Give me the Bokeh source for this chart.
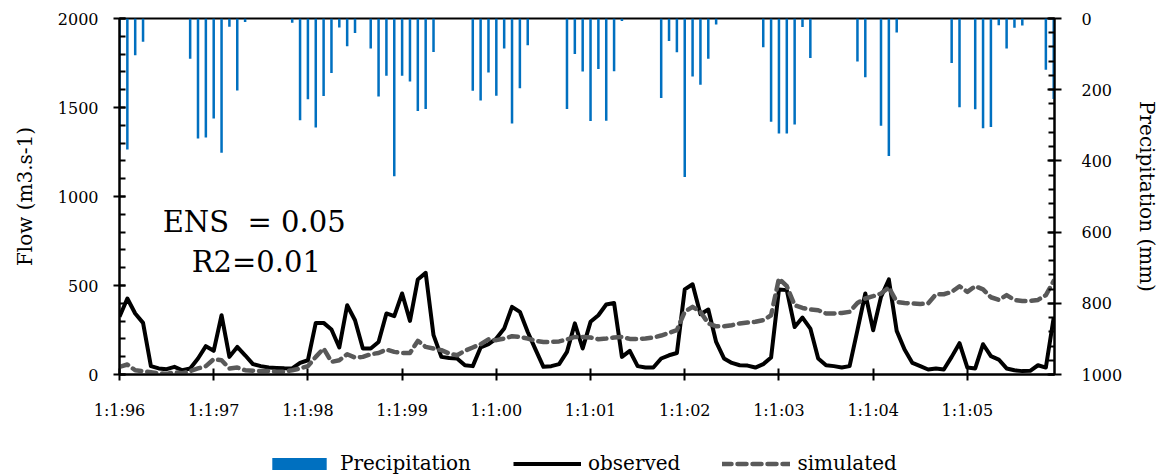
from bokeh.plotting import figure
from bokeh.layouts import column
from bokeh.models import Range1d, LinearAxis, FixedTicker, Label, Legend, LegendItem
from bokeh.embed import file_html
from bokeh.resources import INLINE

# ---------------- data ----------------
months = list(range(120))  # Jan 1996 .. Dec 2005
year_ticks = [0, 12, 24, 36, 48, 60, 72, 84, 96, 108]
tick_labels = ["1:1:96", "1:1:97", "1:1:98", "1:1:99", "1:1:00",
               "1:1:01", "1:1:02", "1:1:03", "1:1:04", "1:1:05"]

precipitation = [370, 368, 103, 65, 0, 0, 0, 0, 0, 113,
                 337, 334, 281, 377, 23, 202, 10, 0, 0, 0,
                 0, 0, 12, 286, 227, 306, 218, 153, 25, 78,
                 41, 0, 84, 219, 161, 443, 161, 177, 260, 254,
                 94, 0, 0, 0, 0, 203, 230, 152, 217, 84,
                 295, 196, 75, 0, 0, 0, 0, 254, 100, 149,
                 288, 142, 287, 148, 7, 0, 0, 0, 0, 223,
                 63, 95, 445, 163, 186, 113, 17, 0, 0, 0,
                 0, 0, 81, 290, 323, 323, 298, 24, 111, 0,
                 0, 0, 0, 0, 121, 165, 0, 301, 386, 39,
                 0, 0, 0, 0, 0, 0, 125, 249, 0, 255,
                 308, 305, 19, 84, 26, 20, 0, 0, 144, 226]

observed = [324, 427, 343, 290, 47, 34, 30, 43, 24, 34,
            90, 159, 133, 333, 99, 155, 108, 58, 47, 39,
            37, 35, 34, 65, 80, 290, 290, 253, 152, 389,
            305, 146, 146, 183, 343, 328, 455, 301, 534, 571,
            221, 99, 93, 90, 52, 47, 152, 170, 202, 258,
            380, 352, 239, 140, 43, 47, 58, 127, 287, 146,
            296, 333, 393, 402, 99, 133, 47, 39, 39, 90,
            108, 121, 478, 507, 339, 365, 183, 90, 65, 52,
            50, 39, 58, 95, 478, 474, 267, 320, 258, 90,
            52, 47, 39, 47, 249, 455, 249, 436, 534, 245,
            140, 65, 47, 28, 34, 28, 99, 176, 39, 34,
            170, 103, 84, 34, 24, 19, 21, 52, 39, 320]

simulated = [43, 56, 24, 19, 13, 7, 3, 13, 7, 19,
             34, 47, 86, 80, 34, 39, 24, 21, 19, 19,
             16, 16, 24, 34, 47, 99, 146, 71, 80, 114,
             95, 99, 114, 121, 140, 127, 121, 121, 189, 155,
             146, 137, 118, 108, 133, 152, 170, 198, 193, 202,
             215, 211, 202, 189, 183, 183, 186, 197, 211, 211,
             208, 198, 202, 208, 211, 200, 200, 202, 208, 219,
             234, 249, 352, 380, 352, 287, 271, 271, 277, 287,
             292, 296, 305, 333, 539, 496, 389, 374, 365, 361,
             343, 343, 346, 352, 402, 427, 440, 455, 489, 408,
             402, 399, 396, 399, 451, 451, 464, 496, 464, 496,
             478, 434, 419, 446, 419, 413, 413, 419, 446, 526]

series_names = ["Precipitation", "observed", "simulated"]
ens_text = "ENS\u00a0 = 0.05"
r2_text = "R2=0.01"

FONT = "DejaVu Serif"
BLUE = "#0070C0"
GREY = "#595959"

p = figure(width=1162, height=430, x_range=Range1d(0, 119.1), y_range=Range1d(0, 2000),
           output_backend="svg", toolbar_location=None,
           min_border_left=119, min_border_right=106, min_border_top=18, min_border_bottom=56)
p.extra_y_ranges = {"precip": Range1d(1000, 0)}
p.xgrid.visible = False
p.ygrid.visible = False
p.outline_line_color = "black"
p.outline_line_width = 2
p.outline_line_alpha = 1.0
p.background_fill_color = "white"
p.border_fill_color = "white"

bar_style = dict(fill_color=BLUE, line_color=None)
obs_style = dict(line_color="black", line_width=4, line_join="round")
sim_style = dict(line_color=GREY, line_width=4.5, line_dash="9 6", line_cap="round", line_join="round")

p.vbar(x=months, width=0.32, top=0, bottom=precipitation, y_range_name="precip", **bar_style)
p.line(months, observed, **obs_style)
p.line(months, simulated, **sim_style)

# bottom axis
xa = p.xaxis[0]
xa.ticker = FixedTicker(ticks=year_ticks, minor_ticks=[])
xa.major_label_overrides = {t: l for t, l in zip(year_ticks, tick_labels)}
xa.major_tick_in = 6
xa.major_tick_out = 6
xa.major_label_standoff = 20

# left axis
ya = p.yaxis[0]
ya.ticker = FixedTicker(ticks=[0, 500, 1000, 1500, 2000], minor_ticks=list(range(0, 2001, 100)))
ya.axis_label = "Flow (m3.s-1)"
ya.major_tick_in = 6
ya.major_tick_out = 6
ya.minor_tick_in = 6
ya.minor_tick_out = 0
ya.major_label_standoff = 15
ya.axis_label_standoff = 18

# right axis
ra = LinearAxis(y_range_name="precip", axis_label="Precipitation (mm)",
                ticker=FixedTicker(ticks=[0, 200, 400, 600, 800, 1000],
                                   minor_ticks=list(range(0, 1001, 40))))
ra.major_tick_in = 7
ra.major_tick_out = 7
ra.minor_tick_in = 6
ra.minor_tick_out = 0
ra.major_label_standoff = 20
ra.axis_label_standoff = 10
p.add_layout(ra, "right")

for ax in (xa, ya, ra):
    ax.axis_line_color = "black"
    ax.axis_line_width = 2
    ax.major_tick_line_color = "black"
    ax.major_tick_line_width = 2
    ax.minor_tick_line_color = "black"
    ax.minor_tick_line_width = 2
    ax.major_label_text_font = FONT
    ax.major_label_text_font_size = "16px"
    ax.major_label_text_color = "black"
    ax.axis_label_text_font = FONT
    ax.axis_label_text_font_size = "20px"
    ax.axis_label_text_font_style = "normal"
    ax.axis_label_text_color = "black"

p.add_layout(Label(x=5.5, y=856, text=ens_text, text_font=FONT, text_font_size="29px",
                   text_baseline="alphabetic", text_color="black"))
p.add_layout(Label(x=9.2, y=631, text=r2_text, text_font=FONT, text_font_size="29px",
                   text_baseline="alphabetic", text_color="black"))

# legend strip below the chart: same series, drawn outside this strip's visible range,
# so that only the legend keys show
lg = figure(width=1162, height=45, x_range=Range1d(500, 501), y_range=Range1d(5000, 5001),
            output_backend="svg", toolbar_location=None, x_axis_type=None, y_axis_type=None,
            min_border_left=0, min_border_right=0, min_border_top=0, min_border_bottom=0)
lg.xgrid.visible = False
lg.ygrid.visible = False
lg.outline_line_color = None
key_bar = lg.vbar(x=months, width=0.32, top=precipitation, bottom=0, **bar_style)
key_obs = lg.line(months, observed, **obs_style)
key_sim = lg.line(months, simulated, **sim_style)

legend = Legend(items=[LegendItem(label=series_names[0], renderers=[key_bar]),
                       LegendItem(label=series_names[1], renderers=[key_obs]),
                       LegendItem(label=series_names[2], renderers=[key_sim])],
                orientation="horizontal", location=(146, 0),
                glyph_width=68, glyph_height=15, label_standoff=7, spacing=42,
                padding=0, margin=0, border_line_color=None, background_fill_alpha=0,
                label_text_font=FONT, label_text_font_size="20px", label_text_color="black")
lg.add_layout(legend, "center")

layout = column(p, lg, spacing=0)
open("out.html", "w").write(file_html(layout, INLINE))
